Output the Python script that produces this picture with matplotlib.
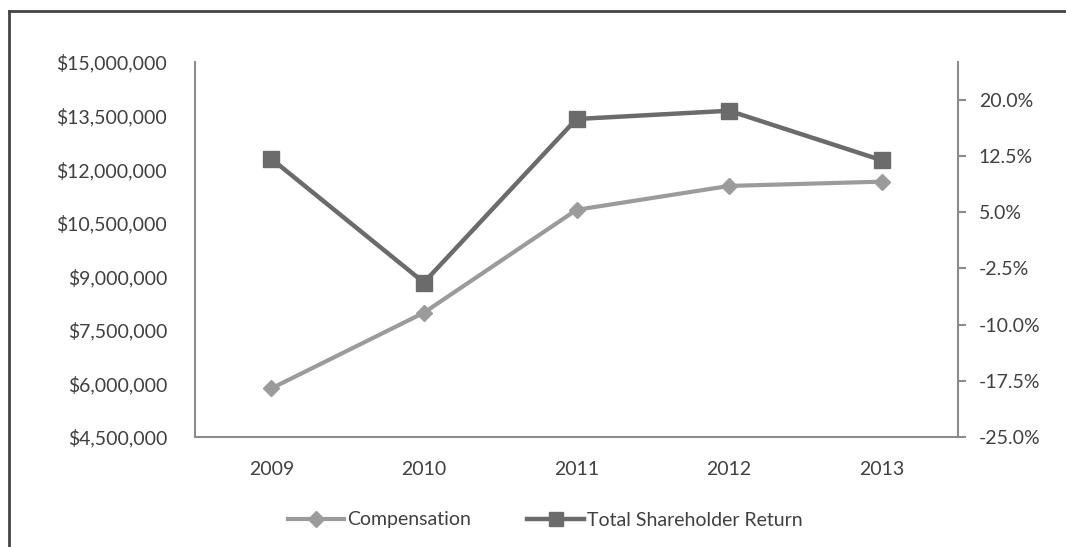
import matplotlib
matplotlib.use("Agg")
import matplotlib.pyplot as plt
from matplotlib.ticker import FuncFormatter
from matplotlib.lines import Line2D

years = ["2009", "2010", "2011", "2012", "2013"]
compensation = [5860000, 7980000, 10860000, 11530000, 11650000]
tsr = [12.1, -4.4, 17.4, 18.5, 11.9]
left_ticks = [4500000, 6000000, 7500000, 9000000, 10500000, 12000000, 13500000, 15000000]
right_ticks = [-25.0, -17.5, -10.0, -2.5, 5.0, 12.5, 20.0]

plt.rcParams['font.family'] = ['Lato', 'DejaVu Sans']
text_color = "#404040"
axis_color = "#8c8c8c"
comp_color = "#9b9b9b"
tsr_color = "#6b6b6b"
fs = 14

fig = plt.figure(figsize=(10.66, 5.47), dpi=100)
ax = fig.add_axes([195/1066, 1-437/547, (958-195)/1066, (437-62)/547])
ax2 = ax.twinx()

x = list(range(len(years)))
ax.plot(x, compensation, color=comp_color, lw=3, marker='D', markersize=8.5, label="Compensation", zorder=3)
ax2.plot(x, tsr, color=tsr_color, lw=3.2, marker='s', markersize=11.5, label="Total Shareholder Return", zorder=3)

ax.set_xlim(-0.5, 4.5)
ax.set_ylim(4500000, 15000000)
ax2.set_ylim(-25, 25)
ax.set_xticks(x)
ax.set_xticklabels(years)
ax.set_yticks(left_ticks)
ax.yaxis.set_major_formatter(FuncFormatter(lambda v, p: "${:,.0f}".format(v)))
ax2.set_yticks(right_ticks)
ax2.yaxis.set_major_formatter(FuncFormatter(lambda v, p: "{:.1f}%".format(v)))

for a in (ax, ax2):
    for s in a.spines.values():
        s.set_visible(False)
ax.spines['left'].set_visible(True)
ax.spines['bottom'].set_visible(True)
ax2.spines['right'].set_visible(True)
for s in ('left', 'bottom'):
    ax.spines[s].set_color(axis_color)
    ax.spines[s].set_linewidth(1.5)
ax2.spines['right'].set_color(axis_color)
ax2.spines['right'].set_linewidth(1.5)

ax.tick_params(axis='y', length=0, pad=20, labelsize=fs, labelcolor=text_color)
ax.tick_params(axis='x', length=0, pad=17, labelsize=fs, labelcolor=text_color)
ax2.tick_params(axis='y', direction='out', length=6, width=1.5, color=axis_color, pad=9,
                labelsize=fs, labelcolor=text_color)

handles = [Line2D([], [], color=comp_color, lw=3, marker='D', markersize=8.5),
           Line2D([], [], color=tsr_color, lw=3.2, marker='s', markersize=10)]
fig.legend(handles, ["Compensation", "Total Shareholder Return"], loc='center',
           bbox_to_anchor=(545/1066, 1-520/547), ncol=2, frameon=False,
           fontsize=fs, labelcolor=text_color, handlelength=2.9, handletextpad=0.15,
           columnspacing=2.9)

# outer frame (partially visible)
fig.add_artist(Line2D([9/1066, 9/1066], [0, 1-11/547], transform=fig.transFigure, color="#444444", lw=2))
fig.add_artist(Line2D([9/1066, 1], [1-11/547, 1-11/547], transform=fig.transFigure, color="#444444", lw=2))

fig.savefig("out.png", dpi=100)
